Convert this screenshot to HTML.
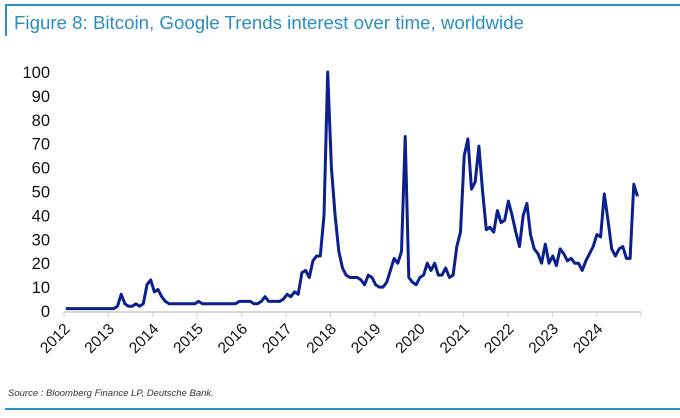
<!DOCTYPE html>
<html><head><meta charset="utf-8"><style>
body{margin:0;background:#fff;width:680px;height:413px;overflow:hidden;font-family:"Liberation Sans",sans-serif}
</style></head><body>
<svg width="680" height="413">
<line x1="5" y1="5" x2="680" y2="5" stroke="#2a8fc0" stroke-width="2"/>
<line x1="6" y1="5" x2="6" y2="36" stroke="#2a8fc0" stroke-width="2"/>
<text x="14" y="29" font-size="18.7" fill="#2a8fc0">Figure 8: Bitcoin, Google Trends interest over time, worldwide</text>
<line x1="64" y1="312" x2="641" y2="312" stroke="#ccc" stroke-width="1.5"/>
<g id="yt"></g>
<g id="xt"></g>
<path id="ln" fill="none" stroke="#0b1f8f" stroke-width="3" stroke-linejoin="round"/>
<text x="8" y="396" font-size="9.5" font-style="italic" fill="#333">Source : Bloomberg Finance LP, Deutsche Bank.</text>
<line x1="5" y1="409" x2="680" y2="409" stroke="#2a8fc0" stroke-width="2"/>
</svg>
<script>
const years=[2012,2013,2014,2015,2016,2017,2018,2019,2020,2021,2022,2023,2024];
const yTicks=[0,10,20,30,40,50,60,70,80,90,100];
const values=[
1,1,1,1,1,1,1,1,1,1,1,1,
1,1,2,7,3,2,2,3,2,3,11,13,
8,9,6,4,3,3,3,3,3,3,3,3,
4,3,3,3,3,3,3,3,3,3,3,4,
4,4,4,3,3,4,6,4,4,4,4,5,
7,6,8,7,16,17,14,21,23,23,40,100,
60,40,25,18,15,14,14,14,13,11,15,14,
11,10,10,12,17,22,20,25,73,14,12,11,
14,15,20,17,20,15,15,18,14,15,27,33,
65,72,51,54,69,50,34,35,33,42,37,38,
46,40,33,27,40,45,32,26,24,20,28,20,
23,19,26,24,21,22,20,20,17,21,24,27,
32,31,49,38,26,23,26,27,22,22,53,48];
const NS="http://www.w3.org/2000/svg";
const X0=64,PX=44.4;
const xs=t=>X0+(t-2012)*PX;
const ys=v=>311-v*2.39;
const yt=document.getElementById('yt');
yTicks.forEach(v=>{const t=document.createElementNS(NS,'text');


t.setAttribute('x',50);t.setAttribute('y',ys(v)+6);t.setAttribute('text-anchor','end');t.setAttribute('font-size','16.5');t.setAttribute('fill','#111');t.textContent=v;yt.appendChild(t);});
const xt=document.getElementById('xt');
years.concat([2025]).forEach(y=>{const l=document.createElementNS(NS,'line');


l.setAttribute('x1',xs(y));l.setAttribute('x2',xs(y));l.setAttribute('y1',312);l.setAttribute('y2',317);l.setAttribute('stroke','#ccc');xt.appendChild(l);});
years.forEach(y=>{const t=document.createElementNS(NS,'text');


const x=xs(y)-1,yy=322;
t.setAttribute('x',x);t.setAttribute('y',yy);t.setAttribute('text-anchor','end');t.setAttribute('font-size','15.5');t.setAttribute('fill','#111');
t.setAttribute('transform',`rotate(-45 ${x} ${yy})`);t.setAttribute('dy','11');t.textContent=y;xt.appendChild(t);});
let d='';values.forEach((v,i)=>{d+=(i?'L':'M')+xs(2012+(i+0.5)/12*(1-0.5/156)).toFixed(1)+','+ys(v).toFixed(1);});
document.getElementById('ln').setAttribute('d',d);
</script>
</body></html>
